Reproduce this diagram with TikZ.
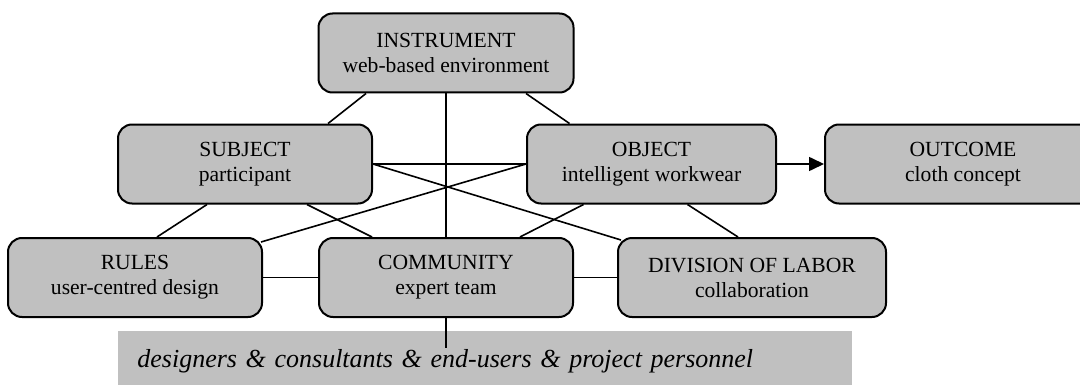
\documentclass[tikz,border=0pt]{standalone}
\usepackage{fontspec}
\setmainfont{Liberation Serif}
\usepackage{tikz}
\usetikzlibrary{arrows.meta,positioning}
\definecolor{boxgray}{RGB}{192,192,192}

\begin{document}
\begin{tikzpicture}[x=0.5pt, y=-0.5pt,
        box/.style={rectangle,rounded corners=7pt,draw=black,line width=1pt,fill=boxgray,
          align=center,minimum height=39.5pt,inner sep=2pt,font=\fontsize{10.8}{12.5}\selectfont},
        band/.style={rectangle,fill=boxgray,anchor=north west,minimum width=367pt,minimum height=27pt,
          text width=348pt,align=left,inner xsep=9.5pt,inner ysep=0pt,text height=10pt,text depth=1pt,
          font=\fontsize{13}{15}\selectfont\itshape},
        link/.style={line width=0.8pt}]
        \clip (0,0) rectangle (1080,385);
        \node[box,minimum width=127.5pt] at (446,53) (instr) {INSTRUMENT\\web-based environment};
        \node[box,minimum width=127pt] at (245,164) (subj) {SUBJECT\\participant};
        \node[box,minimum width=124.5pt] at (651.5,164) (obj) {OBJECT\\intelligent workwear};
        \node[box,minimum width=138pt] at (963,164) (outc) {OUTCOME\\cloth concept};
        \node[box,minimum width=127pt] at (135,277.5) (rules) {RULES\\user-centred design};
        \node[box,minimum width=127pt] at (446,277.5) (comm) {COMMUNITY\\expert team};
        \node[box,minimum width=134pt] at (752,277.5) (div) {DIVISION OF LABOR\\collaboration};
        \node[band] at (118,331) (team) {designers \& consultants \& end-users \& project personnel};
        % lines between the triangle corners
        \draw[link] ([xshift=-40pt]instr.south) -- ([xshift=41.5pt]subj.north);
        \draw[link] ([xshift=40pt]instr.south) -- ([xshift=-41pt]obj.north);
        \draw[link] (instr.south) -- (comm.north);
        \draw[link] (subj.east) -- (obj.west);
        \draw[link] (subj.east) -- ([xshift=2pt,yshift=-1.5pt]div.north west);
        \draw[link] (obj.west) -- ([xshift=-1pt,yshift=-2.5pt]rules.north east);
        \draw[link] ([xshift=-19pt]subj.south) -- ([xshift=11pt]rules.north);
        \draw[link] ([xshift=31pt]subj.south) -- ([xshift=-37pt]comm.north);
        \draw[link] ([xshift=-34pt]obj.south) -- ([xshift=37pt]comm.north);
        \draw[link] ([xshift=18pt]obj.south) -- ([xshift=-7pt]div.north);
        \draw[link] (rules.east) -- (comm.west);
        \draw[link] (comm.east) -- (div.west);
        \draw[link,-{Triangle[length=7.5pt,width=7pt]}] (obj.east) -- (outc.west);
        \draw[link] (comm.south) -- ++(0,-15pt);
      \end{tikzpicture}
\end{document}
